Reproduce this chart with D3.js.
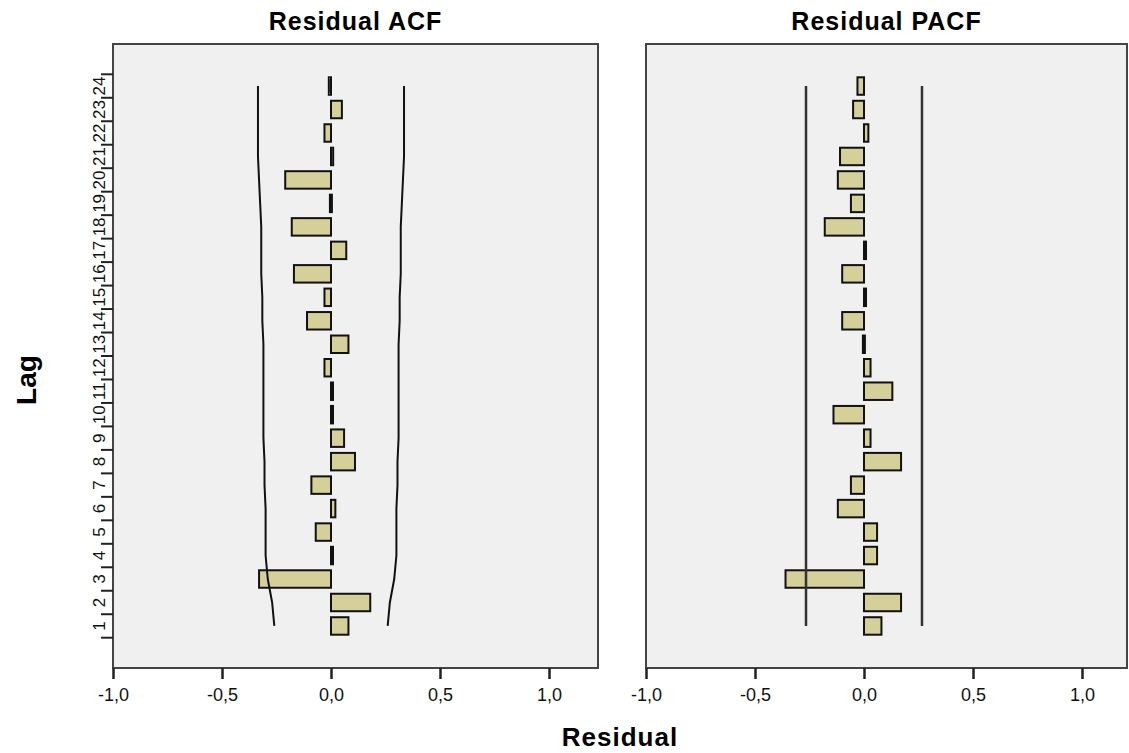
<!DOCTYPE html>
<html><head><meta charset="utf-8">
<script src="https://cdn.jsdelivr.net/npm/d3@7"></script>
<style>body{margin:0;background:#fff;font-family:"Liberation Sans",Arial,sans-serif}</style>
</head><body><div id="chart"></div>
<script>
const lags = d3.range(1, 25)
const acf = [0.08,0.18,-0.33,0.0,-0.07,0.02,-0.09,0.11,0.06,0.0,0.0,-0.03,0.08,-0.11,-0.03,-0.17,0.07,-0.18,-0.005,-0.21,0.01,-0.03,0.05,-0.01]
const acfLimit = [0.26,0.27,0.29,0.30,0.30,0.30,0.305,0.305,0.31,0.31,0.31,0.31,0.31,0.315,0.315,0.32,0.32,0.32,0.325,0.33,0.335,0.335,0.335,0.335]
const pacf = [0.08,0.17,-0.36,0.06,0.06,-0.12,-0.06,0.17,0.03,-0.14,0.13,0.03,-0.005,-0.10,0.005,-0.10,0.005,-0.18,-0.06,-0.12,-0.11,0.02,-0.05,-0.03]
const pacfLimit = 0.266
const xTicks = [-1, -0.5, 0, 0.5, 1]

const w = 1129, h = 753
const plotTop = 44, plotBottom = 668
const svg = d3.select("#chart").append("svg").attr("width", w).attr("height", h)

const yScale = d3.scaleBand().domain(lags).range([637.7, 74.3])
const fmt = d => d3.format(".1f")(d).replace(".", ",").replace("−", "-")

const panel = (x0, x1, title, vals, limits, showY) => {
  const xScale = d3.scaleLinear().domain([-1, 1]).range([x0, x0 + 436])
  svg.append("rect").attr("x", x0).attr("y", plotTop).attr("width", x1 - x0).attr("height", plotBottom - plotTop)
     .attr("fill", "#f0f0f0").attr("stroke", "#444").attr("stroke-width", 2)
  svg.append("text").attr("x", (x0 + x1) / 2).attr("y", 30).attr("text-anchor", "middle")
     .attr("font-size", 25).attr("font-weight", "bold").attr("letter-spacing", 1).text(title)

  svg.selectAll(null).data(lags).enter().append("rect")
     .attr("x", d => xScale(Math.min(0, vals[d - 1])))
     .attr("width", d => Math.max(2, Math.abs(xScale(vals[d - 1]) - xScale(0))))
     .attr("y", d => yScale(d) + 3)
     .attr("height", yScale.bandwidth() - 6)
     .attr("fill", "#d5cf99").attr("stroke", "#111").attr("stroke-width", 2)

  const ys = d => yScale(d) + yScale.bandwidth() / 2
  const line = d3.line()
  if (Array.isArray(limits)) {
    const lo = lags.map(d => [xScale(-limits[d - 1]), ys(d)])
    const hi = lags.map(d => [xScale(limits[d - 1]), ys(d)])
    svg.append("path").attr("d", line(lo)).attr("fill", "none").attr("stroke", "#111").attr("stroke-width", 2)
    svg.append("path").attr("d", line(hi)).attr("fill", "none").attr("stroke", "#111").attr("stroke-width", 2)
  } else {
    [-limits, limits].forEach(v => {
      svg.append("path").attr("d", line([[xScale(v), ys(1)], [xScale(v), ys(24)]]))
         .attr("stroke", "#333").attr("stroke-width", 2.5)
    })
  }

  const xAxis = d3.axisBottom(xScale).tickValues(xTicks).tickFormat(fmt).tickSize(11).tickSizeOuter(0)
  const gx = svg.append("g").attr("transform", "translate(0," + plotBottom + ")").call(xAxis)
  gx.select(".domain").remove()
  gx.selectAll("line").attr("stroke", "#222").attr("stroke-width", 2.5)
  gx.selectAll("text").attr("font-size", 18).attr("font-family", "Liberation Sans, Arial").attr("fill", "#111").attr("dy", "1.05em")

  if (showY) {
    const edges = lags.map(d => yScale(d)).concat([yScale(1) + yScale.bandwidth()])
    svg.selectAll(null).data(edges).enter().append("line")
       .attr("x1", x0 - 12).attr("x2", x0).attr("y1", d => d).attr("y2", d => d)
       .attr("stroke", "#222").attr("stroke-width", 2)
    svg.selectAll(null).data(lags).enter().append("text")
       .attr("transform", d => "translate(" + (x0 - 8) + "," + ys(d) + ") rotate(-90)")
       .attr("text-anchor", "middle").attr("font-size", 17).attr("fill", "#111").text(d => d)
  }
}

panel(113, 598, "Residual ACF", acf, acfLimit, true)
panel(646, 1127, "Residual PACF", pacf, pacfLimit, false)

svg.append("text").attr("transform", "translate(36,380) rotate(-90)").attr("text-anchor", "middle")
   .attr("font-size", 28).attr("font-weight", "bold").text("Lag")
svg.append("text").attr("x", 620).attr("y", 746).attr("text-anchor", "middle")
   .attr("font-size", 26).attr("font-weight", "bold").attr("letter-spacing", 1).text("Residual")
</script></body></html>
